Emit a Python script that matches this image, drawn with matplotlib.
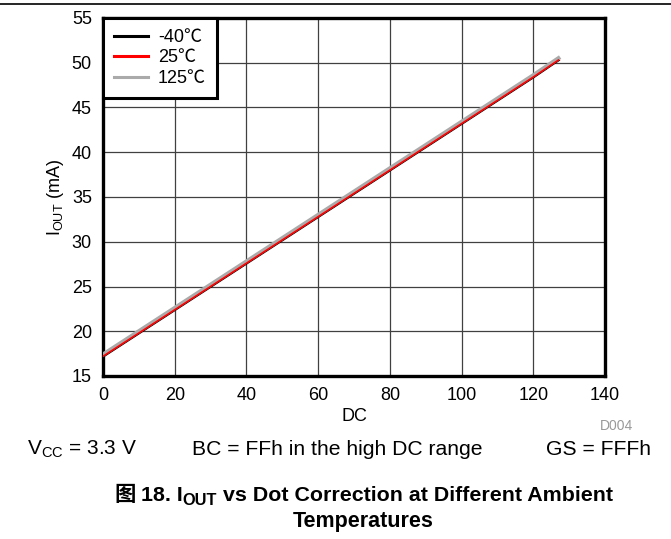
import matplotlib
matplotlib.use("Agg")
import matplotlib.pyplot as plt
from matplotlib.lines import Line2D

plt.rcParams["font.family"] = ["Liberation Sans", "Noto Sans CJK SC", "DejaVu Sans"]
plt.rcParams["mathtext.fontset"] = "custom"
plt.rcParams["mathtext.rm"] = "Liberation Sans"
plt.rcParams["mathtext.it"] = "Liberation Sans"
plt.rcParams["mathtext.bf"] = "Liberation Sans:bold"

# ── Data ──────────────────────────────────────────────────────
dc = [0, 20, 40, 60, 80, 100, 120, 127]
i_m40 = [17.2, 22.4, 27.6, 32.8, 38.0, 43.2, 48.4, 50.3]
i_25 = [17.2, 22.4, 27.6, 32.8, 38.0, 43.2, 48.4, 50.3]
i_125 = [17.4, 22.6, 27.8, 33.0, 38.2, 43.4, 48.6, 50.5]

W, H = 671, 539
fig = plt.figure(figsize=(W / 100, H / 100), dpi=100)

def fx(px):
    return px / W

def fy(py):
    return 1 - py / H

ax = fig.add_axes([fx(103), fy(376), fx(605) - fx(103), fy(18) - fy(376)])

ax.plot(dc, i_m40, color="black", lw=2.0, label="-40℃", zorder=3)
ax.plot(dc, i_125, color="#aaaaaa", lw=3.0, label="125℃", zorder=4)
ax.plot(dc, i_25, color="red", lw=1.2, label="25℃", zorder=5)

ax.set_xlim(0, 140)
ax.set_ylim(15, 55)
ax.set_xticks(range(0, 141, 20))
ax.set_yticks(range(15, 56, 5))
ax.grid(True, color="#404040", lw=0.9)
ax.set_axisbelow(True)
for s in ax.spines.values():
    s.set_linewidth(2.4)
ax.tick_params(length=0, labelsize=13, pad=8)

ax.set_xlabel("DC", fontsize=13, labelpad=3)
ax.set_ylabel(r"I$_{\rm OUT}$ (mA)", fontsize=13, labelpad=4)

h, l = ax.get_legend_handles_labels()
order = [0, 2, 1]
leg = ax.legend([h[i] for i in order], [l[i] for i in order], loc="upper left",
                fontsize=13, fancybox=False, framealpha=1, edgecolor="black",
                borderaxespad=0, handlelength=1.9, borderpad=0.6, labelspacing=0.2,
                handletextpad=0.55)
leg.get_frame().set_linewidth(2.2)
for ln in leg.get_lines():
    ln.set_linewidth(2.2)

fig.text(fx(633), fy(430), "D004", fontsize=10, color="#999999", ha="right", va="baseline")

# Top rule
fig.add_artist(Line2D([0, 1], [fy(4), fy(4)], color="black", lw=1.2))

# Condition row
fig.text(fx(27), fy(455), r"V$_{\rm CC}$ = 3.3 V", fontsize=15, va="baseline")
fig.text(fx(192), fy(455), "BC = FFh in the high DC range", fontsize=15.2, va="baseline")
fig.text(fx(651), fy(455), "GS = FFFh", fontsize=15.2, va="baseline", ha="right")

# Caption, drawn piece by piece so the subscript stays bold
fig.canvas.draw()
rend = fig.canvas.get_renderer()

def draw_pieces(pieces, cx, base_py):
    texts = []
    for s, size, dy, fam in pieces:
        t = fig.text(0, fy(base_py + dy), s, fontsize=size, fontweight="bold",
                     va="baseline", family=fam)
        texts.append(t)
    widths = [t.get_window_extent(rend).width for t in texts]
    x = cx - sum(widths) / 2
    for t, w in zip(texts, widths):
        t.set_x(fx(x))
        x += w

lat = ["Liberation Sans", "DejaVu Sans"]
draw_pieces([("图 ", 15.4, 0, ["Noto Sans CJK SC"]),
             ("18. I", 15.4, 0, lat),
             ("OUT", 11.8, 4, lat),
             (" vs Dot Correction at Different Ambient", 15.4, 0, lat)], 364, 501)
draw_pieces([("Temperatures", 15.5, 0, lat)], 363, 527)

fig.savefig("out.png", dpi=100)
